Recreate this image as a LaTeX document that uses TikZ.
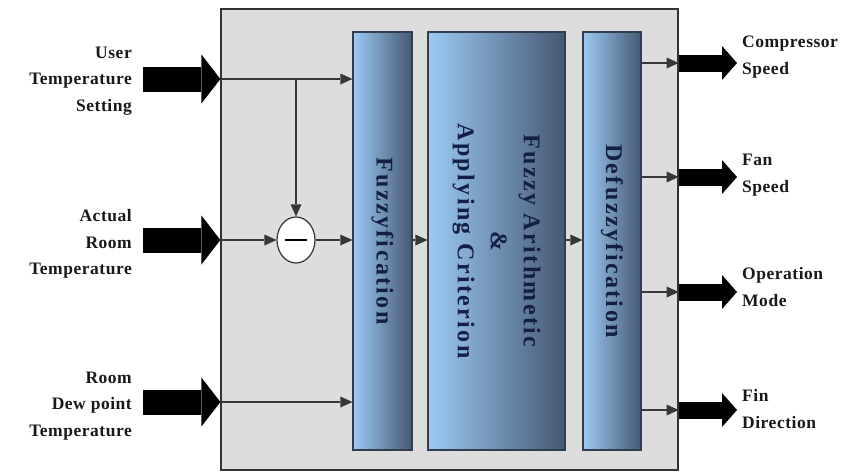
\documentclass[tikz,border=0pt]{standalone}
\usepackage{fontspec}
\setmainfont{Liberation Serif}
\usetikzlibrary{arrows.meta,shapes.geometric}
\definecolor{panelgray}{RGB}{221,221,221}
\definecolor{blocklight}{RGB}{156,202,244}
\definecolor{blockdark}{RGB}{70,88,114}
\definecolor{blockink}{RGB}{20,30,70}
\definecolor{wiregray}{RGB}{55,55,55}
\tikzset{
  panel/.style={draw=black!80, line width=1.2pt, fill=panelgray, inner sep=0pt},
  block/.style={draw=blockdark!70!black, line width=1.2pt, left color=blocklight,
    right color=blockdark, inner sep=0pt, minimum height=418pt},
  blocktext/.style={rotate=-90, align=center, text=blockink,
    font=\fontsize{24}{33}\selectfont\bfseries\addfontfeatures{LetterSpace=10}},
  iolabel/.style={align=left, text=black!90, inner sep=0pt,
    font=\fontsize{17.5}{26.5}\selectfont\bfseries\addfontfeatures{LetterSpace=3}},
  inlabel/.style={iolabel, anchor=east, align=right},
  outlabel/.style={iolabel, anchor=west},
  wire/.style={draw=wiregray, line width=1.3pt,
    -{Triangle[length=12pt,width=11pt,line width=0pt]}},
  bigin/.style={line width=25pt, -{Triangle[length=19pt,width=49pt,line width=0pt]}},
  bigout/.style={line width=17pt, -{Triangle[length=15pt,width=34pt,line width=0pt]}}
}
\begin{document}
\begin{tikzpicture}[x=1pt,y=-1pt]
  \useasboundingbox (0,0) rectangle (851,472);
  \node[panel, minimum width=457pt, minimum height=461pt] (ctrl) at (449.5,239.5) {};
  \node[block, minimum width=59pt, label={[blocktext]center:Fuzzyfication}] (fuzz) at (382.5,241) {};
  \node[block, minimum width=137pt,
    label={[blocktext]center:Fuzzy Arithmetic\\\&\\Applying Criterion}] (arith) at (496.5,241) {};
  \node[block, minimum width=58pt, label={[blocktext]center:Defuzzyfication}] (defuzz) at (612,241) {};
  \node[draw=black!80, line width=1.2pt, fill=white, ellipse, inner sep=0pt,
    minimum width=38pt, minimum height=46pt] (minus) at (296,240) {\rule{22pt}{1.6pt}};

  \coordinate (usr) at (143,79);
  \coordinate (act) at (143,240);
  \coordinate (dew) at (143,402);
  \coordinate (cmp) at (737,63);
  \coordinate (fan) at (737,177);
  \coordinate (opm) at (737,292);
  \coordinate (fin) at (737,410);

  \node[inlabel] (usrlbl) at (132,81) {User\\Temperature\\Setting};
  \node[inlabel] (actlbl) at (132,244) {Actual\\Room\\Temperature};
  \node[inlabel] (dewlbl) at (132,406) {Room\\Dew point\\Temperature};
  \node[outlabel] (cmplbl) at (742,57) {Compressor\\Speed};
  \node[outlabel] (fanlbl) at (742,175) {Fan\\Speed};
  \node[outlabel] (opmlbl) at (742,287) {Operation\\Mode};
  \node[outlabel] (finlbl) at (742,409) {Fin\\Direction};

  \begin{scope}
    \draw[bigin] (usr) -- (usr -| ctrl.west);
    \draw[bigin] (act) -- (act -| ctrl.west);
    \draw[bigin] (dew) -- (dew -| ctrl.west);
    \draw[wire] (usr -| ctrl.west) -- (usr -| fuzz.west);
    \draw[wire] (minus |- usr) -- (minus.north);
    \draw[wire] (act -| ctrl.west) -- (minus.west);
    \draw[wire] (minus.east) -- (act -| fuzz.west);
    \draw[wire] (dew -| ctrl.west) -- (dew -| fuzz.west);
    \draw[wire] (fuzz.east |- act) -- (arith.west |- act);
    \draw[wire] (arith.east |- act) -- (defuzz.west |- act);
    \draw[wire] (defuzz.east |- cmp) -- (ctrl.east |- cmp);
    \draw[wire] (defuzz.east |- fan) -- (ctrl.east |- fan);
    \draw[wire] (defuzz.east |- opm) -- (ctrl.east |- opm);
    \draw[wire] (defuzz.east |- fin) -- (ctrl.east |- fin);
    \draw[bigout] (ctrl.east |- cmp) -- (cmp);
    \draw[bigout] (ctrl.east |- fan) -- (fan);
    \draw[bigout] (ctrl.east |- opm) -- (opm);
    \draw[bigout] (ctrl.east |- fin) -- (fin);
  \end{scope}
\end{tikzpicture}
\end{document}
